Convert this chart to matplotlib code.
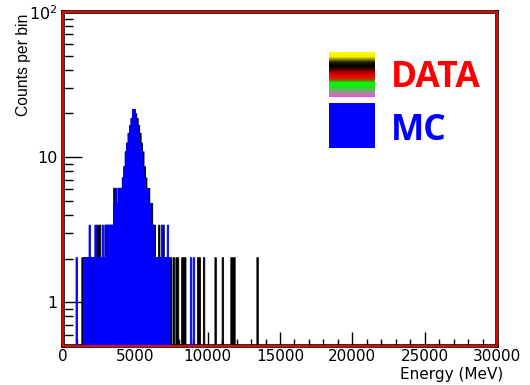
import numpy as np
import matplotlib
matplotlib.use('Agg')
import matplotlib.pyplot as plt
from matplotlib.colors import LinearSegmentedColormap
from matplotlib.patches import Rectangle
from matplotlib.ticker import MultipleLocator, LogLocator, NullFormatter

#energy binning (MeV)
bin_edges = np.arange(0, 30001, 100)

#simulated spectrum, bin centres and per-bin weights
mc_energy = [950,
             1450, 1550, 1650, 1750, 1850, 1950, 2050, 2150, 2250, 2350,
             2450, 2550, 2650, 2750, 2850, 2950, 3050, 3150, 3250, 3350,
             3450, 3550, 3650, 3750, 3850, 3950, 4050, 4150, 4250, 4350,
             4450, 4550, 4650, 4750, 4850, 4950, 5050, 5150, 5250, 5350,
             5450, 5550, 5650, 5750, 5850, 5950, 6050, 6150, 6250, 6350,
             6450, 6550, 6650, 6750, 6850, 6950, 7050, 7150, 7250, 7350,
             8850, 9050]
mc_counts = [2.03,
             2.03, 2.03, 2.03, 2.03, 3.4, 2.03, 2.03, 2.03, 3.4, 2.03,
             2.03, 2.03, 2.03, 3.4, 2.03, 3.4, 3.4, 3.4, 3.4, 3.4,
             3.4, 4.8, 6.1, 4.8, 6.1, 6.1, 6.1, 7.2, 8.6, 10.9,
             12.5, 14.6, 16.5, 18.5, 21.3, 21.3, 18.5, 16.5, 14.6, 12.5,
             10.9, 8.6, 7.2, 6.1, 6.1, 4.8, 4.8, 3.4, 3.4, 2.03,
             2.03, 2.03, 2.03, 2.03, 3.4, 2.03, 2.03, 2.03, 3.4, 2.03,
             2.03, 2.03]

#measured spectrum
data_energy = [1350,
               1450, 1550, 1650, 1750, 1850, 1950, 2050, 2150, 2250, 2350,
               2450, 2550, 2650, 2750, 2850, 2950, 3050, 3150, 3250, 3350,
               3450, 3550, 3650, 3750, 3850, 3950, 4050, 4150, 4250, 4350,
               4450, 4550, 4650, 4750, 4850, 4950, 5050, 5150, 5250, 5350,
               5450, 5550, 5650, 5750, 5850, 5950, 6050, 6150, 6250, 6350,
               6450, 6550, 6650, 6750, 6850, 6950, 7050, 7150, 7250, 7350,
               7450, 7650, 7850, 7950, 8250, 8350, 8450, 9350, 9450, 9750,
               10550, 11050, 11650, 11750, 11850, 13450]
data_counts = [2.03,
               2.03, 2.03, 2.03, 2.03, 2.03, 2.03, 2.03, 2.03, 2.03, 3.4,
               3.4, 3.4, 2.03, 2.03, 2.03, 3.4, 3.4, 3.4, 3.4, 3.4,
               3.4, 6.1, 6.1, 4.8, 6.1, 6.1, 6.1, 7.2, 8.6, 10.9,
               12.5, 14.6, 16.5, 18.5, 21.3, 21.3, 19.9, 18.5, 16.5, 14.6,
               12.5, 10.9, 8.6, 7.2, 6.1, 6.1, 4.8, 4.8, 3.4, 3.4,
               2.03, 2.03, 3.4, 2.03, 2.03, 3.4, 2.03, 2.03, 2.03, 2.03,
               2.03, 2.03, 2.03, 2.03, 2.03, 2.03, 2.03, 2.03, 2.03, 2.03,
               2.03, 2.03, 2.03, 2.03, 2.03, 2.03]

fig = plt.figure(figsize=(5.3, 3.85), dpi=100)
ax = fig.add_axes([0.1189, 0.1013, 0.8189, 0.8675])
ax.set_yscale('log')

ax.hist(data_energy, bins=bin_edges, weights=data_counts, histtype='stepfilled',
        facecolor='black', edgecolor='black', linewidth=0.6, zorder=2)
ax.hist(mc_energy, bins=bin_edges, weights=mc_counts, histtype='stepfilled',
        facecolor='#0000ff', edgecolor='#0000ff', linewidth=0.6, zorder=3)

ax.set_xlim(0, 30000)
ax.set_ylim(0.5, 100)

#root-style ticks, pointing inwards
ax.xaxis.set_major_locator(MultipleLocator(5000))
ax.xaxis.set_minor_locator(MultipleLocator(1000))
ax.set_yticks([1, 10, 100], labels=['1', '10', r'$\mathregular{10^{2}}$'])
ax.yaxis.set_minor_locator(LogLocator(base=10, subs=np.arange(2, 10), numticks=10))
ax.yaxis.set_minor_formatter(NullFormatter())
ax.tick_params(axis='x', which='major', direction='in', length=10, width=1,
               top=False, labelsize=11, pad=2.5)
ax.tick_params(axis='x', which='minor', direction='in', length=5, width=1, top=False)
ax.tick_params(axis='y', which='major', direction='in', length=14, width=1,
               right=False, labelsize=11.5, pad=4)
ax.tick_params(axis='y', which='minor', direction='in', length=7, width=1, right=False)

ax.set_xlabel('Energy (MeV)', fontsize=11, loc='right')
ax.xaxis.set_label_coords(1.014, -0.063)
ax.set_ylabel('Counts per bin', fontsize=11.3, family='Liberation Sans', loc='top')
ax.yaxis.set_label_coords(-0.074, 0.995)

#black frame with a red line on top of it
for s in ax.spines.values():
    s.set_color('black')
    s.set_linewidth(2.6)
ax.add_patch(Rectangle((0, 0), 1, 1, transform=ax.transAxes, fill=False,
                       edgecolor='red', linewidth=1.3, clip_on=False, zorder=6))

#legend boxes
stripes = LinearSegmentedColormap.from_list('stripes', [
    (0.0, '#ffff00'), (0.1, '#f4f000'), (0.22, '#202000'), (0.3, '#000000'),
    (0.35, '#200000'), (0.45, '#b00000'), (0.55, '#ff0000'), (0.63, '#806000'),
    (0.68, '#00ff00'), (0.78, '#20e020'), (0.88, '#80a080'), (0.94, '#c080a0'),
    (1.0, '#ff40ff')])
lax = fig.add_axes([329 / 530, 1 - 97 / 385, 46 / 530, 45 / 385])
lax.imshow(np.linspace(0, 1, 90).reshape(-1, 1), cmap=stripes, aspect='auto')
lax.axis('off')
mc_box = fig.add_axes([329 / 530, 1 - 148 / 385, 46 / 530, 45 / 385])
mc_box.add_patch(Rectangle((0, 0), 1, 1, color='#0000ff'))
mc_box.axis('off')

fig.text(391 / 530, 1 - 87 / 385, 'DATA', color='red', fontsize=25.5,
         fontweight='bold', family='Open Sans', va='baseline')
fig.text(391 / 530, 1 - 140 / 385, 'MC', color='#0000ff', fontsize=25.5,
         fontweight='bold', family='Open Sans', va='baseline')

fig.savefig('out.png', dpi=100)
